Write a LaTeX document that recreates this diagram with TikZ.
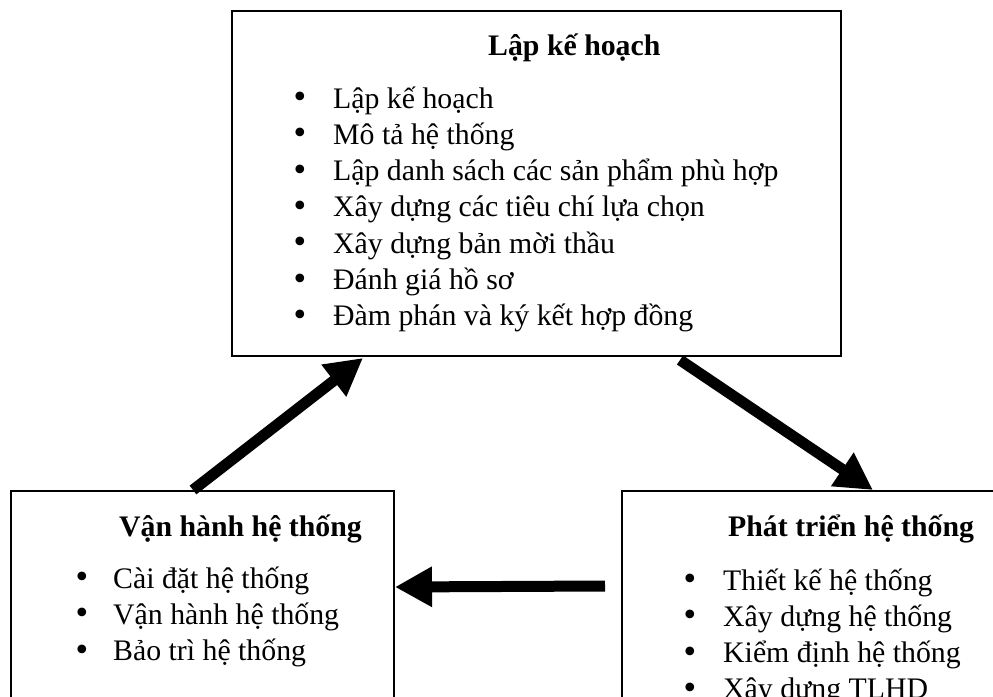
\documentclass[tikz,border=0pt]{standalone}
\usepackage{fontspec}
\setmainfont{Liberation Serif}
\newfontfamily\dotfont{DejaVu Sans}
\usetikzlibrary{arrows.meta,calc}

\begin{document}
\begin{tikzpicture}[x=1pt,y=-1pt,
  box/.style={draw,line width=2pt,fill=white,inner sep=0pt,anchor=north west},
  ttl/.style={anchor=base west,inner sep=0pt,font=\fontsize{29.8}{36}\selectfont\bfseries},
  itm/.style={anchor=base west,inner sep=0pt,font=\fontsize{29.8}{36}\selectfont},
  dot/.style={anchor=center,inner sep=0pt,font=\dotfont\fontsize{29.8}{36}\selectfont},
  flow/.style={line width=11pt,-{Triangle[length=37pt,width=38pt]}}]

\useasboundingbox (0,0) rectangle (993,696);
\clip (0,0) rectangle (993,696);
\fill[white] (0,0) rectangle (993,696);

% the three stage boxes
\node[box,minimum width=609pt,minimum height=345pt] (top) at (231,10) {};
\node[box,minimum width=383pt,minimum height=260pt] (lft) at (10,490) {};
\node[box,minimum width=383pt,minimum height=260pt] (rgt) at (621,490) {};

% planning stage
\node[ttl] (topT) at (488,55) {Lập kế hoạch};
\foreach \t [count=\i from 0] in {Lập kế hoạch,Mô tả hệ thống,Lập danh sách các sản phẩm phù hợp,Xây dựng các tiêu chí lựa chọn,Xây dựng bản mời thầu,Đánh giá hồ sơ,Đàm phán và ký kết hợp đồng}{
  \node[dot] (topB\i) at (300,100+36.3*\i) {•};
  \node[itm] (topI\i) at (333,108+36.3*\i) {\t};
}

% operation stage
\node[ttl] (lftT) at (119,536) {Vận hành hệ thống};
\foreach \t [count=\i from 0] in {Cài đặt hệ thống,Vận hành hệ thống,Bảo trì hệ thống}{
  \node[dot] (lftB\i) at (82,580+36.3*\i) {•};
  \node[itm] (lftI\i) at (113,588+36.3*\i) {\t};
}

% development stage
\node[ttl] (rgtT) at (728,536) {Phát triển hệ thống};
\foreach \t [count=\i from 0] in {Thiết kế hệ thống,Xây dựng hệ thống,Kiểm định hệ thống,Xây dựng TLHD}{
  \node[dot] (rgtB\i) at (690,582+36.3*\i) {•};
  \node[itm] (rgtI\i) at (723,590+36.3*\i) {\t};
}

% cycle arrows
\draw[flow] ([xshift=183pt]lft.north west) -- ([xshift=132pt,yshift=-1pt]top.south west);
\draw[flow] ([xshift=449pt,yshift=-3pt]top.south west) -- ([xshift=252pt]rgt.north west);
\draw[flow] ([xshift=-16pt,yshift=-96pt]rgt.north west) -- ([yshift=-97pt]lft.north east);
\end{tikzpicture}
\end{document}
